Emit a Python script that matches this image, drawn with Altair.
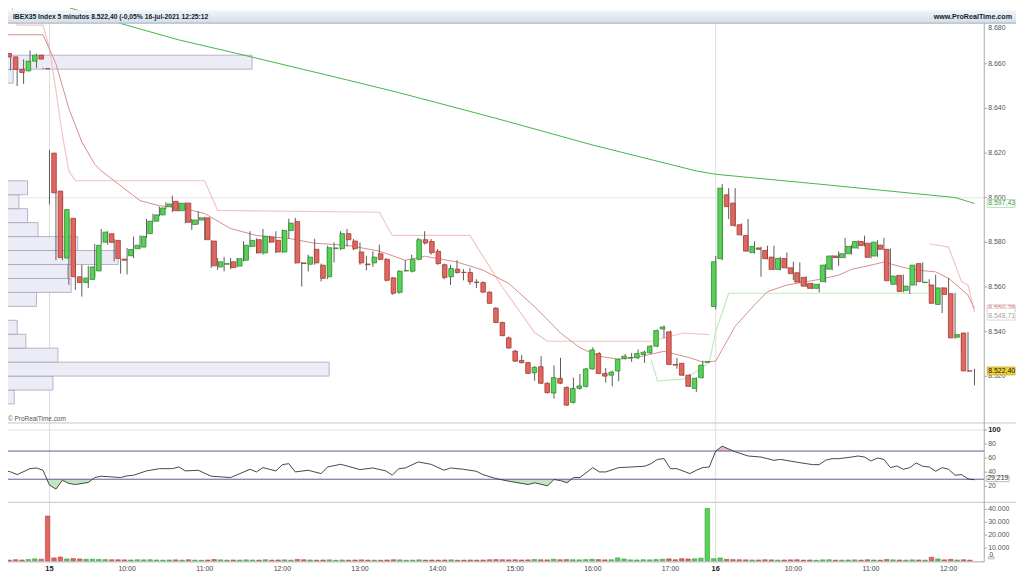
import altair as alt
import pandas as pd

# ---------------- data ----------------
bar_index = list(range(-7, 144))

opens = [8664.6, 8663.1, 8657.5, 8656.8, 8661.2, 8663.9, 8657.8,
         8620.0, 8603.0, 8573.0, 8590.8, 8564.6, 8562.0, 8563.4, 8567.2, 8580.1, 8583.9,
         8580.9, 8572.5, 8574.0, 8577.2, 8577.9, 8583.9, 8589.5, 8592.3, 8596.1, 8598.4,
         8594.2, 8597.6, 8588.0, 8590.0, 8591.0, 8580.6, 8569.0, 8570.2, 8571.3, 8569.4,
         8572.0, 8578.2, 8581.2, 8575.3, 8582.4, 8580.9, 8575.7, 8585.3, 8589.3, 8570.8,
         8570.2, 8576.9, 8569.8, 8564.6, 8577.2, 8577.2, 8583.9, 8580.6, 8575.7, 8570.3,
         8570.8, 8574.9, 8572.4, 8564.1, 8557.6, 8567.2, 8567.1, 8572.4, 8581.2, 8580.4,
         8576.0, 8570.0, 8564.6, 8568.0, 8566.6, 8566.5, 8562.2, 8562.0, 8557.7, 8550.5,
         8544.1, 8537.2, 8531.3, 8527.1, 8526.1, 8521.6, 8524.3, 8516.9, 8512.5, 8519.1,
         8515.0, 8508.3, 8514.6, 8515.5, 8523.3, 8530.2, 8521.3, 8520.5, 8522.4, 8528.0,
         8528.2, 8528.3, 8529.8, 8530.5, 8533.5, 8541.2, 8539.9, 8525.3, 8525.8, 8520.5,
         8514.6, 8519.4, 8526.3,
         8551.3, 8572.7, 8601.3, 8597.6, 8587.9, 8583.1, 8575.4, 8577.5, 8576.4, 8573.4,
         8567.9, 8572.8, 8568.6, 8566.4, 8564.3, 8561.6, 8559.4, 8562.4, 8568.0, 8573.9,
         8573.2, 8574.9, 8577.5, 8580.4, 8579.6, 8573.9, 8578.8, 8576.9, 8561.2, 8565.2,
         8558.5, 8560.9, 8570.5, 8562.0, 8560.9, 8552.2, 8559.6, 8557.0, 8537.5, 8539.4, 8522.4]

closes = [8663.1, 8657.5, 8656.1, 8661.2, 8663.9, 8662.1, 8657.8,
          8602.2, 8573.2, 8594.7, 8564.6, 8562.0, 8564.0, 8569.0, 8578.7, 8584.6, 8580.0,
          8572.8, 8572.0, 8576.8, 8578.7, 8582.7, 8589.5, 8592.3, 8595.4, 8597.2, 8594.2,
          8597.5, 8589.0, 8590.0, 8591.0, 8581.2, 8569.5, 8571.3, 8570.5, 8568.7, 8572.7,
          8578.7, 8580.9, 8575.3, 8582.7, 8580.1, 8575.7, 8585.3, 8588.6, 8570.8, 8570.5,
          8573.4, 8570.8, 8563.9, 8577.6, 8577.5, 8583.9, 8581.2, 8577.2, 8570.8, 8570.0,
          8573.4, 8572.4, 8563.0, 8557.2, 8567.1, 8567.4, 8572.4, 8581.2, 8579.7, 8575.4,
          8570.5, 8564.3, 8568.3, 8566.5, 8566.5, 8562.4, 8562.0, 8557.7, 8552.7, 8544.1,
          8538.2, 8532.7, 8526.8, 8526.1, 8521.3, 8524.0, 8516.9, 8512.7, 8519.4, 8516.9,
          8507.1, 8514.6, 8515.7, 8523.3, 8531.8, 8521.3, 8520.1, 8521.9, 8527.6, 8529.0,
          8528.4, 8530.2, 8530.8, 8533.5, 8540.5, 8542.1, 8525.3, 8525.0, 8520.5, 8515.5,
          8519.1, 8525.0, 8526.5,
          8571.3, 8604.3, 8596.0, 8587.6, 8583.4, 8576.1, 8578.2, 8576.9, 8572.7, 8567.9,
          8572.8, 8568.6, 8566.0, 8562.2, 8560.4, 8559.4, 8561.2, 8569.8, 8573.9, 8573.2,
          8574.9, 8578.2, 8580.4, 8578.6, 8573.3, 8580.1, 8576.9, 8562.8, 8564.9, 8558.0,
          8560.4, 8569.8, 8562.4, 8562.2, 8552.7, 8559.6, 8556.7, 8537.2, 8538.7, 8522.4, 8522.4]

highs = [8666.5, 8663.5, 8660.5, 8662.0, 8666.0, 8664.5, 8658.2,
         8621.5, 8603.5, 8601.0, 8591.5, 8572.0, 8570.0, 8569.5, 8579.2, 8586.0, 8585.0,
         8581.5, 8573.0, 8577.5, 8582.6, 8583.2, 8590.5, 8592.8, 8596.0, 8598.0, 8600.9,
         8598.0, 8598.0, 8590.5, 8594.0, 8591.5, 8581.0, 8573.0, 8573.5, 8573.0, 8573.0,
         8580.5, 8585.0, 8581.8, 8586.0, 8583.0, 8585.0, 8585.8, 8590.6, 8591.0, 8571.2,
         8574.5, 8581.6, 8570.5, 8578.5, 8580.0, 8585.0, 8586.0, 8581.5, 8580.0, 8574.0,
         8576.0, 8579.0, 8573.0, 8564.5, 8567.5, 8572.0, 8574.5, 8582.0, 8585.0, 8581.5,
         8577.0, 8570.5, 8570.0, 8572.0, 8568.0, 8568.5, 8563.5, 8562.5, 8558.0, 8551.0,
         8544.5, 8537.8, 8531.8, 8529.5, 8526.5, 8524.5, 8529.0, 8517.3, 8524.9, 8528.3,
         8515.5, 8519.4, 8521.0, 8523.8, 8533.0, 8530.8, 8523.7, 8522.5, 8528.0, 8530.0,
         8530.5, 8532.0, 8531.5, 8534.0, 8541.0, 8542.7, 8540.5, 8528.3, 8526.0, 8521.0,
         8519.5, 8527.0, 8526.6,
         8573.9, 8606.2, 8604.3, 8604.3, 8588.5, 8590.5, 8580.5, 8578.0, 8578.5, 8578.5,
         8573.5, 8575.5, 8571.3, 8571.0, 8564.8, 8562.0, 8561.6, 8570.3, 8574.4, 8576.0,
         8582.0, 8578.8, 8581.0, 8583.0, 8580.0, 8581.0, 8582.0, 8577.3, 8565.4, 8565.6,
         8560.8, 8570.2, 8571.0, 8563.5, 8565.5, 8560.0, 8564.0, 8557.4, 8539.0, 8539.8, 8523.4]

lows = [8662.0, 8657.0, 8650.0, 8651.0, 8660.5, 8658.2, 8657.6,
        8597.0, 8572.0, 8572.0, 8561.0, 8558.7, 8555.7, 8559.5, 8564.6, 8579.0, 8579.0,
        8571.5, 8566.0, 8565.6, 8573.0, 8577.0, 8582.0, 8589.0, 8591.8, 8595.0, 8593.5,
        8593.8, 8588.5, 8585.6, 8588.0, 8581.0, 8568.5, 8567.7, 8567.0, 8568.0, 8568.8,
        8571.5, 8577.8, 8575.0, 8574.5, 8579.8, 8575.2, 8575.2, 8581.6, 8570.5, 8560.2,
        8567.0, 8570.0, 8562.5, 8563.5, 8571.0, 8576.5, 8578.0, 8576.5, 8570.0, 8567.5,
        8569.0, 8572.0, 8562.5, 8556.5, 8557.0, 8567.0, 8566.5, 8572.0, 8579.0, 8574.5,
        8570.0, 8563.5, 8560.9, 8566.0, 8563.0, 8561.0, 8559.5, 8557.5, 8552.5, 8543.8,
        8538.0, 8532.3, 8526.5, 8525.8, 8521.0, 8518.0, 8516.5, 8512.3, 8510.0, 8516.5,
        8506.8, 8507.8, 8514.0, 8515.0, 8523.0, 8521.0, 8517.2, 8515.5, 8517.8, 8527.5,
        8526.5, 8527.8, 8526.0, 8530.0, 8533.0, 8537.0, 8525.0, 8523.4, 8520.2, 8515.2,
        8513.0, 8519.0, 8526.2,
        8550.0, 8572.0, 8590.5, 8587.0, 8583.0, 8575.8, 8575.0, 8564.6, 8572.3, 8567.5,
        8567.5, 8568.2, 8563.1, 8561.8, 8560.0, 8559.0, 8557.6, 8562.0, 8567.5, 8569.5,
        8572.8, 8574.5, 8577.0, 8578.2, 8572.8, 8573.5, 8576.5, 8562.4, 8560.8, 8557.6,
        8556.9, 8560.5, 8562.0, 8560.5, 8552.3, 8548.3, 8556.3, 8536.8, 8530.8, 8522.0, 8516.0]

volumes = [600, 900, 700, 1100, 1600, 1300, 34800,
           2300, 3000, 1500, 1800, 1500, 1200, 1300, 1100, 1000, 900,
           900, 800, 700, 900, 800, 900, 700, 600, 700, 800,
           600, 900, 600, 500, 700, 1100, 800, 600, 700, 600,
           800, 700, 600, 900, 600, 700, 800, 600, 1100, 900,
           700, 600, 700, 800, 500, 700, 600, 700, 800, 600,
           600, 500, 700, 900, 800, 500, 600, 800, 600, 700,
           600, 700, 800, 500, 600, 700, 600, 700, 900, 1000,
           900, 800, 900, 700, 800, 1100, 900, 800, 1300, 900,
           1000, 900, 800, 1000, 1300, 1000, 800, 900, 2300, 1500,
           800, 700, 900, 800, 1000, 1300, 1600, 900, 1700, 1500,
           1600, 2100, 40700,
           1700, 2300, 1200, 1000, 900, 800, 700, 700, 900, 800,
           600, 700, 800, 900, 600, 700, 500, 800, 900, 600,
           600, 700, 800, 600, 900, 700, 600, 1100, 800, 700,
           600, 800, 700, 600, 2800, 1500, 800, 1200, 700, 900, 600]

rsi_index = [-7, -6, -5, -3, -2, -1, 0, 1, 2, 3, 4, 6, 7, 8, 11, 12, 13, 15, 17, 19,
             20, 21, 23, 25, 28, 31, 32, 33, 35, 36, 37, 38, 40, 42, 43, 45, 46, 48, 50, 52,
             53, 54, 55, 57, 59, 61, 62, 64, 66, 67, 69, 71, 74, 75, 77, 78, 79, 80, 81, 82,
             84, 85, 86, 88, 90, 92, 93, 94, 95, 96, 97, 99, 100, 101, 102, 103, 104, 105, 106, 108,
             110, 112, 113, 116, 118, 119, 120, 121, 122, 124, 125, 126, 127, 128, 129, 130, 131, 132, 133, 134,
             135, 136, 137, 138, 139, 140, 141, 142, 143]
rsi_value = [42.7, 40.4, 36.6, 45.0, 46.0, 42.7, 21.6, 16.0, 28.6, 24.0, 22.5, 25.4, 32.4, 34.3, 32.4, 34.8, 35.7, 41.8, 45.0, 45.0,
             47.4, 41.8, 42.7, 34.3, 32.4, 44.1, 40.4, 46.5, 41.8, 50.7, 52.1, 40.4, 42.7, 38.0, 47.4, 51.2, 48.8, 43.7, 46.0, 41.8,
             35.7, 45.0, 46.0, 54.5, 51.2, 42.7, 46.0, 44.1, 41.3, 36.6, 31.0, 27.2, 22.5, 24.9, 20.7, 29.6, 28.0, 24.9, 32.4, 32.4,
             46.5, 40.4, 40.4, 46.5, 47.4, 48.4, 52.1, 58.2, 59.2, 45.0, 45.0, 38.0, 42.7, 46.5, 47.4, 70.0, 77.0, 73.0, 69.0, 63.0,
             61.5, 56.8, 58.2, 53.5, 50.7, 50.7, 57.0, 59.2, 59.2, 61.5, 63.0, 61.5, 55.9, 60.1, 58.2, 46.5, 48.8, 44.1, 46.5, 53.1,
             48.4, 47.4, 41.3, 46.5, 44.1, 35.7, 36.6, 30.5, 29.219]

ma_long_index = [-7, 0, 6, 13, 20, 28, 44, 54, 69, 84, 100, 103, 119, 140, 143]
ma_long_value = [8694.0, 8688.0, 8682.4, 8676.4, 8670.7, 8665.3, 8654.2, 8647.1, 8635.6, 8623.6,
                 8612.0, 8610.5, 8606.1, 8600.1, 8597.43]

ma_short_index = [-7, -1, 1, 3, 5, 7, 8, 10, 14, 17, 21, 24, 28, 32, 37, 41, 46, 51, 55, 58,
                  63, 67, 71, 75, 79, 82, 85, 88, 91, 95, 99, 101, 103, 104, 106, 109, 111, 114, 117, 119,
                  122, 124, 127, 129, 132, 134, 137, 139, 142, 143]
ma_short_value = [8673.0, 8673.0, 8660.0, 8640.0, 8625.0, 8615.0, 8612.0, 8607.6, 8598.7, 8596.4,
                  8595.1, 8592.9, 8586.2, 8583.1, 8581.8, 8579.6, 8578.7, 8576.1, 8572.0, 8573.8,
                  8571.2, 8567.6, 8561.6, 8551.2, 8539.4, 8532.8, 8529.0, 8527.6, 8528.6, 8531.2,
                  8528.3, 8526.4, 8526.8, 8532.0, 8542.4, 8552.0, 8557.9, 8560.9, 8562.4, 8563.4,
                  8565.3, 8567.9, 8569.8, 8571.2, 8568.8, 8567.6, 8566.8, 8563.9, 8556.4, 8550.28]

band_up_seg = [1] * 20 + [2] * 5
band_up_index = [-7, -6, -5, -1, 0, 1, 2, 3, 4, 24, 26, 51, 53, 65, 70, 75, 77, 93, 98, 102,
                 136, 139, 141, 142, 143]
band_up_value = [8692.0, 8687.5, 8677.3, 8677.3, 8667.0, 8648.0, 8628.0, 8612.0, 8607.6, 8607.6,
                 8594.3, 8593.5, 8583.1, 8583.1, 8560.0, 8539.6, 8535.7, 8535.7, 8539.4, 8538.7,
                 8579.4, 8577.9, 8562.4, 8560.9, 8548.71]

band_dn_index = [93, 94, 98, 100, 102, 103, 105, 136]
band_dn_value = [8527.6, 8517.9, 8518.7, 8522.0, 8526.2, 8540.0, 8557.2, 8557.2]

profile_low = [8507.60, 8513.85, 8520.10, 8526.35, 8532.60, 8538.85, 8551.35, 8557.60, 8563.85,
               8570.10, 8576.35, 8582.60, 8588.85, 8595.10, 8601.35, 8651.35, 8657.60]
profile_high = [8513.85, 8520.10, 8526.35, 8532.60, 8538.85, 8545.10, 8557.60, 8563.85, 8570.10,
                8576.35, 8582.60, 8588.85, 8595.10, 8601.35, 8607.60, 8657.60, 8663.85]
profile_size = [14.3, 53.3, 331.7, 58.3, 26.0, 17.3, 36.7, 71.7, 68.0,
                119.0, 78.3, 38.3, 27.7, 19.0, 27.7, 13.3, 254.0]

price_ticks = [8680, 8660, 8640, 8620, 8600, 8580, 8560, 8540, 8520]
price_tick_labels = ['8.680', '8.660', '8.640', '8.620', '8.600', '8.580', '8.560', '8.540', '8.520']
rsi_ticks = [100, 80, 60, 40, 20]
rsi_tick_labels = ['100', '80', '60', '40', '20']
vol_ticks = [40000, 30000, 20000, 10000]
vol_tick_labels = ['40.000', '30.000', '20.000', '10.000']
time_tick_index = [0, 12, 24, 36, 48, 60, 72, 84, 96, 103, 115, 127, 139]
time_tick_labels = ['15', '10:00', '11:00', '12:00', '13:00', '14:00', '15:00', '16:00', '17:00',
                    '16', '10:00', '11:00', '12:00']
day_start_index = [0, 103]
rsi_levels = [30, 70]

header_left = 'IBEX35 Index 5 minutos 8.522,40 (-0,05% 16-jul-2021 12:25:12'
header_right = 'www.ProRealTime.com'
watermark = '\u00a9 ProRealTime.com'

# ---------------- scales (pixel ranges of each panel) ----------------
W, H = 1016, 568
AX = 984  # right axis position
FONT = 'Liberation Sans'

XS = alt.Scale(domain=[-6.411, 149.42], range=[0, W], nice=False, zero=False)
PS = alt.Scale(domain=[8499.1, 8678.22], range=[416, 13], nice=False, zero=False)
RS = alt.Scale(domain=[-2.8, 109.9], range=[496, 416], nice=False, zero=False)
VS = alt.Scale(domain=[-769, 45385], range=[556, 496], nice=False, zero=False)
VPX = alt.Scale(domain=[0, 1024], range=[-8, W], nice=False, zero=False)


def X(f):
    return alt.X(f, type='quantitative', scale=XS, axis=None)


def Yp(f):
    return alt.Y(f, type='quantitative', scale=PS, axis=None)


def Yr(f):
    return alt.Y(f, type='quantitative', scale=RS, axis=None)


def Yv(f):
    return alt.Y(f, type='quantitative', scale=VS, axis=None)


bars = pd.DataFrame(dict(i=bar_index, o=opens, h=highs, l=lows, c=closes, v=volumes))
bars['dir'] = ['up' if c > o else 'down' for o, c in zip(opens, closes)]

fill_scale = alt.Scale(domain=['up', 'down'], range=['#56d256', '#e0665f'])
stroke_scale = alt.Scale(domain=['up', 'down'], range=['#2d8a2d', '#a63a34'])

layers = []

# background lines
layers.append(alt.Chart(pd.DataFrame({'p': [8600]})).mark_rule(color='#e4e4e4', strokeWidth=1).encode(
    y=Yp('p'), x=alt.value(0), x2=alt.value(AX)))
layers.append(alt.Chart(pd.DataFrame({'i': day_start_index})).mark_rule(color='#dcdcdc', strokeWidth=1).encode(
    x=X('i'), y=alt.value(13), y2=alt.value(556)))

# volume profile
prof = pd.DataFrame(dict(lo=profile_low, hi=profile_high, s=profile_size))
prof['zero'] = 0
layers.append(alt.Chart(prof).mark_rect(fill='#ececf6', stroke='#a3a1c0', strokeWidth=0.8).encode(
    x=alt.X('zero', type='quantitative', scale=VPX, axis=None), x2='s', y=Yp('lo'), y2='hi'))

# bands and moving averages
bu = pd.DataFrame(dict(seg=band_up_seg, i=band_up_index, p=band_up_value))
layers.append(alt.Chart(bu).mark_line(color='#f2c4c4', strokeWidth=1.2).encode(
    x=X('i'), y=Yp('p'), detail='seg:N'))
bd = pd.DataFrame(dict(i=band_dn_index, p=band_dn_value))
layers.append(alt.Chart(bd).mark_line(color='#bdeabd', strokeWidth=1.2).encode(x=X('i'), y=Yp('p')))
ml = pd.DataFrame(dict(i=ma_long_index, p=ma_long_value))
layers.append(alt.Chart(ml).mark_line(color='#45b445', strokeWidth=1).encode(x=X('i'), y=Yp('p')))
ms = pd.DataFrame(dict(i=ma_short_index, p=ma_short_value))
layers.append(alt.Chart(ms).mark_line(color='#d98c8c', strokeWidth=1).encode(x=X('i'), y=Yp('p')))

# candles
layers.append(alt.Chart(bars).mark_rule(color='#5a5a5a', strokeWidth=1).encode(
    x=X('i'), y=Yp('l'), y2='h'))
layers.append(alt.Chart(bars).mark_bar(size=4.6, strokeWidth=0.8).encode(
    x=X('i'), y=Yp('o'), y2='c',
    fill=alt.Fill('dir:N', scale=fill_scale, legend=None),
    stroke=alt.Stroke('dir:N', scale=stroke_scale, legend=None)))

# panel separators
layers.append(alt.Chart(pd.DataFrame({'r': [100]})).mark_rule(color='#e2e2e2').encode(
    y=Yr('r'), x=alt.value(0), x2=alt.value(AX)))
layers.append(alt.Chart(pd.DataFrame({'r': [0]})).mark_rule(color='#c4c4c4').encode(
    y=alt.value(416), x=alt.value(0), x2=alt.value(W)))
layers.append(alt.Chart(pd.DataFrame({'r': [0]})).mark_rule(color='#c4c4c4').encode(
    y=alt.value(496), x=alt.value(0), x2=alt.value(W)))


# RSI fills (clipped against the 30 / 70 levels)
def clipped_area(level, below):
    pts = []
    for k in range(len(rsi_index)):
        i1, v1 = rsi_index[k], rsi_value[k]
        if k > 0:
            i0, v0 = rsi_index[k - 1], rsi_value[k - 1]
            if (v0 - level) * (v1 - level) < 0:
                t = (level - v0) / (v1 - v0)
                pts.append((i0 + t * (i1 - i0), level))
        vv = min(v1, level) if below else max(v1, level)
        pts.append((i1, vv))
    return pd.DataFrame(pts, columns=['i', 'r'])


lo_area = clipped_area(30, True)
hi_area = clipped_area(70, False)
layers.append(alt.Chart(lo_area).mark_area(color='#bfe0bf', opacity=0.9).encode(
    x=X('i'), y=Yr('r'), y2=alt.datum(30)))
layers.append(alt.Chart(hi_area).mark_area(color='#e7b9b9', opacity=0.9).encode(
    x=X('i'), y=Yr('r'), y2=alt.datum(70)))
layers.append(alt.Chart(pd.DataFrame({'r': rsi_levels})).mark_rule(color='#5b5b9c', strokeWidth=1).encode(
    y=Yr('r'), x=alt.value(0), x2=alt.value(AX)))
rsi_df = pd.DataFrame(dict(i=rsi_index, r=rsi_value))
layers.append(alt.Chart(rsi_df).mark_line(color='#333333', strokeWidth=0.9).encode(x=X('i'), y=Yr('r')))

# volume
layers.append(alt.Chart(bars).mark_bar(size=4.6, strokeWidth=0.5).encode(
    x=X('i'), y=Yv('v'), y2=alt.datum(0),
    fill=alt.Fill('dir:N', scale=fill_scale, legend=None),
    stroke=alt.Stroke('dir:N', scale=stroke_scale, legend=None)))

# axes frame
layers.append(alt.Chart(pd.DataFrame({'a': [0]})).mark_rule(color='#a8a8a8').encode(
    x=alt.value(AX), y=alt.value(13), y2=alt.value(556)))
layers.append(alt.Chart(pd.DataFrame({'a': [0]})).mark_rule(color='#a8a8a8').encode(
    x=alt.value(0), x2=alt.value(AX), y=alt.value(556)))

pt = pd.DataFrame(dict(p=price_ticks, t=price_tick_labels))
pt_top = pt[pt.p == max(price_ticks)]
pt_rest = pt[pt.p != max(price_ticks)]
layers.append(alt.Chart(pt_rest).mark_rule(color='#a8a8a8').encode(y=Yp('p'), x=alt.value(AX), x2=alt.value(AX + 3)))
layers.append(alt.Chart(pt_rest).mark_text(align='left', baseline='middle', fontSize=7, font=FONT, color='#555555').encode(
    y=Yp('p'), x=alt.value(AX + 4), text='t:N'))
# the top label sits just under the header band (as it does under the reference header)
layers.append(alt.Chart(pt_top).mark_text(align='left', baseline='middle', fontSize=7, font=FONT, color='#555555', dy=9).encode(
    y=Yp('p'), x=alt.value(AX + 4), text='t:N'))

rt = pd.DataFrame(dict(r=rsi_ticks, t=rsi_tick_labels, w=['bold', 'normal', 'normal', 'normal', 'normal']))
layers.append(alt.Chart(rt).mark_rule(color='#a8a8a8').encode(y=Yr('r'), x=alt.value(AX), x2=alt.value(AX + 3)))
layers.append(alt.Chart(rt[rt.w == 'normal']).mark_text(align='left', baseline='middle', fontSize=7, font=FONT, color='#555555').encode(
    y=Yr('r'), x=alt.value(AX + 4), text='t:N'))
layers.append(alt.Chart(rt[rt.w == 'bold']).mark_text(align='left', baseline='middle', fontSize=7.5, font=FONT, fontWeight='bold', color='#222222').encode(
    y=Yr('r'), x=alt.value(AX + 4), text='t:N'))

vt = pd.DataFrame(dict(v=vol_ticks, t=vol_tick_labels))
layers.append(alt.Chart(vt).mark_rule(color='#a8a8a8').encode(y=Yv('v'), x=alt.value(AX), x2=alt.value(AX + 3)))
layers.append(alt.Chart(vt).mark_text(align='left', baseline='middle', fontSize=7, font=FONT, color='#555555').encode(
    y=Yv('v'), x=alt.value(AX + 4), text='t:N'))

tt = pd.DataFrame(dict(i=time_tick_index, t=time_tick_labels))
tt['bold'] = [t in ('15', '16') for t in time_tick_labels]
layers.append(alt.Chart(tt[~tt.bold]).mark_text(align='center', baseline='middle', fontSize=7, font=FONT, color='#444444').encode(
    x=X('i'), y=alt.value(563), text='t:N'))
layers.append(alt.Chart(tt[tt.bold]).mark_text(align='center', baseline='middle', fontSize=7.5, font=FONT, fontWeight='bold', color='#222222').encode(
    x=X('i'), y=alt.value(563), text='t:N'))


# current value boxes
def price_box(val, txt, tcol, fcol, scol, off):
    d = pd.DataFrame({'p': [val], 'lo': [val - 1.75], 'hi': [val + 1.75], 't': [txt]})
    box = alt.Chart(d).mark_rect(fill=fcol, stroke=scol, strokeWidth=0.8, yOffset=off).encode(
        y=Yp('lo'), y2='hi', x=alt.value(AX + 3), x2=alt.value(AX + 31))
    lab = alt.Chart(d).mark_text(align='left', baseline='middle', fontSize=7, font=FONT, color=tcol, dy=off).encode(
        y=Yp('p'), x=alt.value(AX + 4), text='t:N')
    return [box, lab]


layers += price_box(8597.43, '8.597,43', '#3c9c3c', '#ffffff', '#a6d6a6', 0)
layers += price_box(8550.28, '8.550,28', '#d07a7a', '#ffffff', '#e6bcbc', -1)
layers += price_box(8548.71, '8.548,71', '#b89c9c', '#ffffff', '#d6cccc', 4)
layers += price_box(8522.40, '8.522,40', '#111111', '#f2d23c', '#c8a820', 0)

rb = pd.DataFrame({'r': [29.219], 'lo': [29.219 - 5.5], 'hi': [29.219 + 5.5], 't': ['29,219']})
layers.append(alt.Chart(rb).mark_rect(fill='#ffffff', stroke='#a8a8a8', strokeWidth=0.8, yOffset=-2).encode(
    y=Yr('lo'), y2='hi', x=alt.value(AX + 2), x2=alt.value(AX + 25)))
layers.append(alt.Chart(rb).mark_text(align='left', baseline='middle', fontSize=7, font=FONT, color='#333333', dy=-2).encode(
    y=Yr('r'), x=alt.value(AX + 3), text='t:N'))

vb = pd.DataFrame({'v': [0], 'lo': [-3000], 'hi': [3000], 't': ['0']})
layers.append(alt.Chart(vb).mark_rect(fill='#ffffff', stroke='#a8a8a8', strokeWidth=0.8, yOffset=-6).encode(
    y=Yv('lo'), y2='hi', x=alt.value(AX + 4), x2=alt.value(AX + 10)))
layers.append(alt.Chart(vb).mark_text(align='center', baseline='middle', fontSize=6.5, font=FONT, color='#444444', dy=-6).encode(
    y=Yv('v'), x=alt.value(AX + 7), text='t:N'))

# watermark
layers.append(alt.Chart(pd.DataFrame({'t': [watermark]})).mark_text(
    align='left', baseline='middle', fontSize=6.5, font=FONT, color='#555555').encode(
    x=alt.value(0), y=alt.value(412), text='t:N'))

# header bar (drawn last so that it covers lines above the price area)
grad = alt.LinearGradient(gradient='linear', x1=0, y1=0, x2=0, y2=1,
                          stops=[alt.GradientStop(color='#f1f5f9', offset=0),
                                 alt.GradientStop(color='#d4dee8', offset=1)])
hdr = pd.DataFrame({'a': [0]})
layers.append(alt.Chart(hdr).mark_rect(fill=grad).encode(
    x=alt.value(0), x2=alt.value(W), y=alt.value(0), y2=alt.value(13)))
layers.append(alt.Chart(hdr).mark_rule(color='#9fb0c0').encode(
    x=alt.value(0), x2=alt.value(W), y=alt.value(13)))
layers.append(alt.Chart(pd.DataFrame({'t': [header_left]})).mark_text(
    align='left', baseline='middle', fontSize=6.8, font=FONT, fontWeight='bold', color='#111d2a').encode(
    x=alt.value(5), y=alt.value(7), text='t:N'))
layers.append(alt.Chart(pd.DataFrame({'t': [header_right]})).mark_text(
    align='right', baseline='middle', fontSize=7.2, font=FONT, fontWeight='bold', color='#111d2a').encode(
    x=alt.value(W - 4), y=alt.value(7), text='t:N'))

chart = alt.layer(*layers).resolve_scale(
    x='independent', y='independent', fill='independent', stroke='independent'
).properties(
    width=W, height=H, padding=0, autosize=alt.AutoSizeParams(type='none')
).configure_view(stroke=None)

chart.save("out.html", embed_options={"renderer": "svg", "actions": False})
